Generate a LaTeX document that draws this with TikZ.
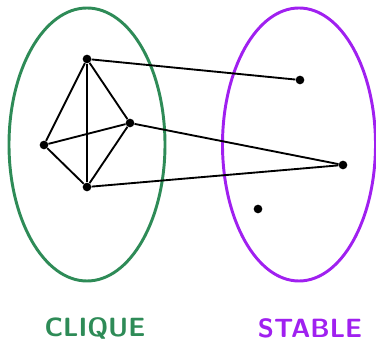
\documentclass[tikz,border=0pt]{standalone}
\usepackage{xcolor}
\definecolor{cliquegreen}{RGB}{46,139,87}
\definecolor{stablepurple}{RGB}{160,32,240}
\begin{document}
\begin{tikzpicture}[x=0.75pt,y=-0.75pt,
  vtx/.style={circle,fill=black,inner sep=0pt,minimum size=6.5pt},
  edge/.style={line width=1.4pt},
  blob/.style={line width=2.2pt},
  lbl/.style={font=\fontsize{19.8}{22}\selectfont\sffamily\bfseries}]
\useasboundingbox (0,0) rectangle (376,341);
\draw[blob,cliquegreen] (87,144.5) ellipse [x radius=78, y radius=136.5];
\draw[blob,stablepurple] (299,144.5) ellipse [x radius=76.5, y radius=136.5];
\node[vtx] (a) at (87,59) {};
\node[vtx] (b) at (130,123) {};
\node[vtx] (c) at (44,145) {};
\node[vtx] (d) at (87,187) {};
\node[vtx] (e) at (300,80) {};
\node[vtx] (f) at (343,165) {};
\node[vtx] (g) at (258,209) {};
\draw[edge] (a) -- (e);
\draw[edge] (a) -- (b);
\draw[edge] (a) -- (c);
\draw[edge] (a) -- (d);
\draw[edge] (c) -- (b);
\draw[edge] (c) -- (d);
\draw[edge] (b) -- (d);
\draw[edge] (b) -- (f);
\draw[edge] (d) -- (f);
\node[lbl,text=cliquegreen] (cl) at (95,328) {CLIQUE};
\node[lbl,text=stablepurple] (st) at (310,328) {STABLE};
\end{tikzpicture}
\end{document}
